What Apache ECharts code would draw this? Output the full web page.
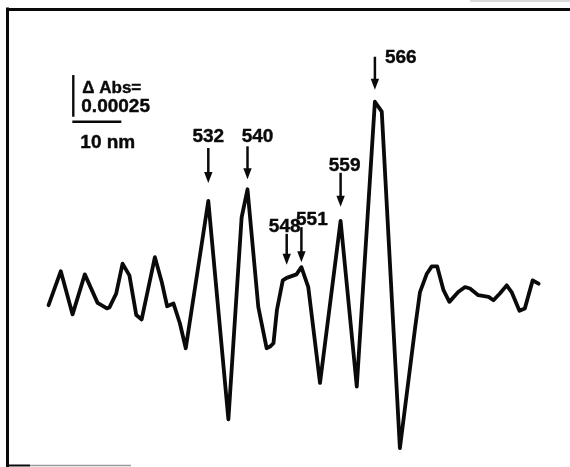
<!DOCTYPE html>
<html>
<head>
<meta charset="utf-8">
<script src="https://cdn.jsdelivr.net/npm/echarts@6/dist/echarts.min.js"></script>
<style>
  html, body { margin: 0; padding: 0; background: #fff; }
  #chart { width: 570px; height: 467px; }
</style>
</head>
<body>
<div id="chart"></div>
<script>
// Difference spectrum, wavelength in nm, ΔAbs in units of 1e-4
const wavelengthNm = [
  499.4, 501.9, 504.3, 506.8, 509.4, 511.3, 511.8, 513.2, 514.5, 515.9,
  517.3, 518.4, 519.8, 521.1, 522.5, 523.6, 524.9, 526.2, 527.4, 532,
  536.1, 538.8, 540, 542.2, 543.9, 544.6, 545.3, 546.0, 547.2, 548,
  550.0, 551, 552.4, 554.8, 559, 562.3, 566, 567.4, 571.1, 574.2,
  575.2, 576.6, 577.6, 578.7, 580.0, 581.2, 583.0, 584.4, 585.4, 587.1,
  589.2, 590.2, 591.5, 592.9, 593.9, 595.5, 596.6, 598.2, 599.4
];
const deltaAbsE4 = [
  -0.30, 1.74, -0.85, 1.55, -0.16, -0.49, -0.44, 0.40, 2.19, 1.49,
  -0.89, -1.15, 0.79, 2.58, 1.09, -0.36, -0.20, -1.38, -2.88, 5.95,
  -7.14, 4.96, 6.65, -0.40, -2.88, -2.78, -2.58, -0.60, 1.19, 1.34,
  1.55, 1.98, 0.79, -4.96, 4.76, -5.18, 11.9, 11.31, -8.87, -1.67,
  0.49, 1.59, 2.03, 2.03, 0.60, -0.10, 0.49, 0.79, 0.70, 0.30,
  0.20, 0.00, 0.40, 0.89, 0.49, -0.63, -0.49, 1.19, 0.99
];

// Marked band positions (nm)
const peakNm = [532, 540, 548, 551, 559, 566];
const peakLabels = ['532', '540', '548', '551', '559', '566'];

// Scale bar sizes
const scaleBarAbsE4 = 2.5;   // 0.00025 ΔAbs
const scaleBarNm = 10;
const scaleLabels = ['\u0394 Abs=', (scaleBarAbsE4 * 1e-4).toFixed(5), scaleBarNm + ' nm'];

// ---- styling / layout ----
const INK = '#0a0a0a';
const FONT_FAMILY = '"Liberation Sans", Arial, Helvetica, sans-serif';
const LABEL_SIZE = 19;

// arrow gap above the band, arrow length, label offset and lift (px)
const peakLayout = [
  { gap: 18, len: 35, dx: 0,    lift: 5,   align: 'center' },
  { gap: 10, len: 33, dx: 10,   lift: 3,   align: 'center' },
  { gap: 13, len: 31, dx: -2,   lift: 0,   align: 'center' },
  { gap: 5,  len: 35, dx: 10.5, lift: 0.5, align: 'center' },
  { gap: 14, len: 34, dx: 4,    lift: 0,   align: 'center' },
  { gap: 12, len: 33, dx: 10,   lift: -8,  align: 'left' }
];
// lower end of the vertical scale bar, in axis units
const scaleBarAnchor = [504.45, 11.0];

const spectrum = wavelengthNm.map((w, i) => [w, deltaAbsE4[i]]);
const peakPoints = peakNm.map(nm => [nm, deltaAbsE4[wavelengthNm.indexOf(nm)]]);

function textAt(str, x, baseline, align, size) {
  return {
    type: 'text', x: x, y: baseline - 0.35 * size,
    style: {
      text: str, font: 'bold ' + size + 'px ' + FONT_FAMILY, fill: INK,
      stroke: INK, lineWidth: 0.4,
      align: align, verticalAlign: 'middle'
    }
  };
}

function renderPeak(params, api) {
  const i = params.dataIndex;
  const L = peakLayout[i];
  const p = api.coord([api.value(0), api.value(1)]);
  const x = p[0];
  const tip = p[1] - L.gap;
  const top = tip - L.len;
  const head = 11;
  return {
    type: 'group',
    children: [
      { type: 'line', shape: { x1: x, y1: top, x2: x, y2: tip - head + 2 }, style: { stroke: INK, lineWidth: 2.5 } },
      { type: 'polygon', shape: { points: [[x, tip], [x - 4.2, tip - head], [x + 4.2, tip - head]] }, style: { fill: INK } },
      textAt(peakLabels[i], x + L.dx, top - L.lift, L.align, LABEL_SIZE)
    ]
  };
}

function renderScaleBar(params, api) {
  const nm = api.value(0), v = api.value(1);
  const bottom = api.coord([nm, v]);
  const topPt = api.coord([nm, v + scaleBarAbsE4]);
  const hStart = api.coord([nm - 0.2, v]);
  const hEnd = api.coord([nm - 0.2 + scaleBarNm, v]);
  const hy = bottom[1] + 5;
  return {
    type: 'group',
    children: [
      { type: 'line', shape: { x1: bottom[0], y1: topPt[1], x2: bottom[0], y2: bottom[1] }, style: { stroke: INK, lineWidth: 2.4 } },
      { type: 'line', shape: { x1: hStart[0], y1: hy, x2: hEnd[0], y2: hy }, style: { stroke: INK, lineWidth: 2.4 } },
      textAt(scaleLabels[0], bottom[0] + 9, bottom[1] - 22, 'left', 17),
      textAt(scaleLabels[1], bottom[0] + 8, bottom[1] - 3, 'left', 19),
      textAt(scaleLabels[2], hStart[0] + 8, bottom[1] + 33, 'left', 19)
    ]
  };
}

const chart = echarts.init(document.getElementById('chart'), null, { renderer: 'canvas' });
chart.setOption({
  animation: false,
  backgroundColor: '#ffffff',
  grid: { left: 27, width: 539, top: -2, height: 470 },
  xAxis: { type: 'value', min: 495, max: 605, show: false },
  yAxis: { type: 'value', min: -10, max: 18, show: false },
  graphic: [
    { type: 'line', shape: { x1: 7.5, y1: 7.5, x2: 7.5, y2: 467 }, style: { stroke: INK, lineWidth: 3 } },
    { type: 'line', shape: { x1: 6, y1: 9.5, x2: 570, y2: 9.5 }, style: { stroke: INK, lineWidth: 3 } },
    { type: 'line', shape: { x1: 6, y1: 465.5, x2: 30, y2: 465.5 }, style: { stroke: INK, lineWidth: 2 } },
    { type: 'line', shape: { x1: 30, y1: 465.5, x2: 131, y2: 465.5 }, style: { stroke: '#9a9a9a', lineWidth: 1.5 } },
    { type: 'line', shape: { x1: 470, y1: 1, x2: 570, y2: 1 }, style: { stroke: '#b5b5b5', lineWidth: 1 } }
  ],
  series: [
    {
      type: 'line',
      data: spectrum,
      showSymbol: false,
      smooth: false,
      lineStyle: { color: INK, width: 3.8, join: 'round', cap: 'round' },
      z: 2
    },
    {
      type: 'custom',
      data: peakPoints,
      renderItem: renderPeak,
      z: 3
    },
    {
      type: 'custom',
      data: [scaleBarAnchor],
      renderItem: renderScaleBar,
      z: 3
    }
  ]
});
</script>
</body>
</html>
